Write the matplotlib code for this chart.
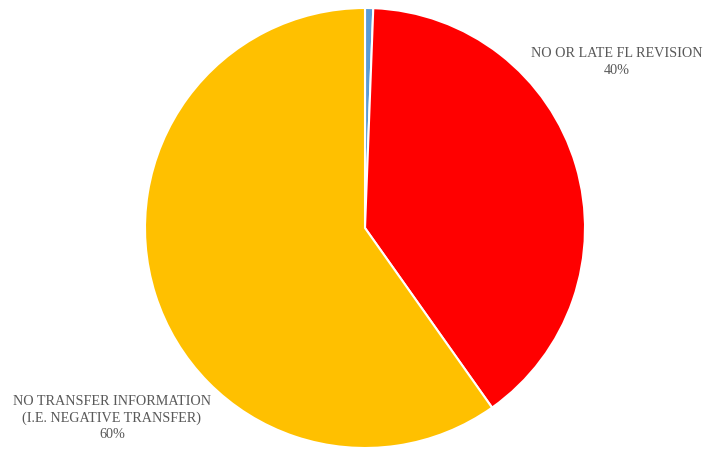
import matplotlib.pyplot as plt

labels = ["", "NO OR LATE FL REVISION", "NO TRANSFER INFORMATION\n(I.E. NEGATIVE TRANSFER)"]
values = [0.6, 39.6, 59.8]
colors = ["#5B9BD5", "#FF0000", "#FFC000"]
pct_labels = ["", "40%", "60%"]

fig = plt.figure(figsize=(7.04, 4.49), dpi=100)
ax = fig.add_axes([0, 0, 1, 1])

ax.pie(values, colors=colors, startangle=90, counterclock=False,
       center=(365, 221), radius=220,
       wedgeprops=dict(edgecolor="white", linewidth=1.5))

# pie resets the limits, so set them afterwards
ax.set_xlim(0, 704)
ax.set_ylim(0, 449)
ax.set_aspect("equal")
ax.axis("off")

font = dict(family="Liberation Serif", fontsize=10.2, color="#595959", ha="center", va="center")
ax.text(617, 449 - 62, labels[1] + "\n" + pct_labels[1], linespacing=1.45, **font)
ax.text(112, 449 - 418, labels[2] + "\n" + pct_labels[2], linespacing=1.35, **font)

fig.savefig("out.png", dpi=100)
